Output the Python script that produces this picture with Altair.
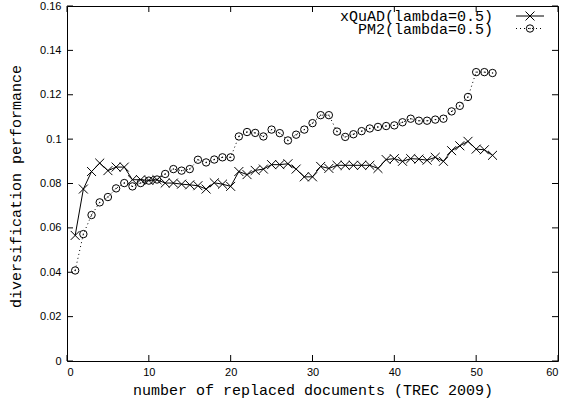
import altair as alt
import pandas as pd

# ---- data ----
x_vals = list(range(1, 53))
xquad = [0.0566, 0.0775, 0.0854, 0.0892, 0.0858, 0.0874, 0.0874, 0.0817, 0.0817, 0.0814,
         0.0817, 0.0802, 0.0802, 0.0797, 0.0794, 0.0790, 0.0775, 0.0803, 0.0797, 0.0787,
         0.0854, 0.0840, 0.0859, 0.0865, 0.0885, 0.0885, 0.0889, 0.0865, 0.0830, 0.0830,
         0.0877, 0.0868, 0.0882, 0.0882, 0.0882, 0.0882, 0.0882, 0.0868, 0.0908, 0.0912,
         0.0900, 0.0912, 0.0910, 0.0905, 0.0918, 0.0900, 0.0948, 0.0970, 0.0990, 0.0955,
         0.0952, 0.0927]
pm2 = [0.0408, 0.0572, 0.0658, 0.0715, 0.0739, 0.0778, 0.0802, 0.0787, 0.0802, 0.0813,
       0.0818, 0.0843, 0.0865, 0.0858, 0.0865, 0.0907, 0.0895, 0.0908, 0.0918, 0.0918,
       0.1012, 0.1032, 0.1028, 0.1012, 0.1043, 0.1027, 0.0994, 0.1020, 0.1043, 0.1072,
       0.1108, 0.1108, 0.1034, 0.1010, 0.1022, 0.1036, 0.1048, 0.1055, 0.1059, 0.1062,
       0.1076, 0.1092, 0.1083, 0.1083, 0.1088, 0.1092, 0.1125, 0.1150, 0.1190, 0.1302,
       0.1302, 0.1298]
series_names = ["xQuAD(lambda=0.5)", "PM2(lambda=0.5)"]
x_ticks = [0, 10, 20, 30, 40, 50, 60]
y_ticks = [0, 0.02, 0.04, 0.06, 0.08, 0.1, 0.12, 0.14, 0.16]
x_title = "number of replaced documents (TREC 2009)"
y_title = "diversification performance"

W, H = 491, 355
MONO = "Liberation Mono"
SANS = "Liberation Sans"
X_PATH = "M-1,-1L1,1M-1,1L1,-1"
X_SIZE, C_SIZE = 80, 55

df_x = pd.DataFrame({"x": x_vals, "y": xquad})
df_p = pd.DataFrame({"x": x_vals, "y": pm2})

xscale = alt.Scale(domain=[0, 60], nice=False, zero=False)
yscale = alt.Scale(domain=[0, 0.16], nice=False, zero=False)

xaxis = alt.Axis(values=x_ticks, title=x_title, labelPadding=5,
                 titleX=W / 2, titleY=28, titleAlign="center", titleBaseline="middle")
yaxis = alt.Axis(values=y_ticks, title=y_title, format="~g", labelPadding=6,
                 titleX=-52, titleY=180, titleAngle=270, titleAlign="center",
                 titleBaseline="middle")
X = alt.X("x:Q", scale=xscale, axis=xaxis)
Y = alt.Y("y:Q", scale=yscale, axis=yaxis)

line_x = alt.Chart(df_x).mark_line(color="black", strokeWidth=1).encode(x=X, y=Y)
pts_x = alt.Chart(df_x).mark_point(shape=X_PATH, size=X_SIZE, filled=False, color="black",
                                   strokeWidth=1, opacity=1).encode(x=X, y=Y)
line_p = alt.Chart(df_p).mark_line(color="black", strokeWidth=1,
                                   strokeDash=[1, 3]).encode(x=X, y=Y)
pts_p = alt.Chart(df_p).mark_point(shape="circle", size=C_SIZE, filled=False, color="black",
                                   strokeWidth=1, opacity=1).encode(x=X, y=Y)
dots_p = alt.Chart(df_p).mark_point(shape="circle", size=2, filled=True, color="black",
                                    opacity=1).encode(x=X, y=Y)

# inward ticks (gnuplot style, mirrored on all four sides)
yt = pd.DataFrame({"y": y_ticks})
xt = pd.DataFrame({"x": x_ticks})
tick_style = dict(color="black", strokeWidth=1)
tl = alt.Chart(yt).mark_rule(**tick_style).encode(y=Y, x=alt.value(0), x2=alt.value(6))
tr = alt.Chart(yt).mark_rule(**tick_style).encode(y=Y, x=alt.value(W - 6), x2=alt.value(W))
tb = alt.Chart(xt).mark_rule(**tick_style).encode(x=X, y=alt.value(H - 6), y2=alt.value(H))
tt = alt.Chart(xt).mark_rule(**tick_style).encode(x=X, y=alt.value(0), y2=alt.value(6))

# legend (gnuplot key: label, then line sample with marker)
leg1 = pd.DataFrame({"t": [series_names[0]]})
leg2 = pd.DataFrame({"t": [series_names[1]]})
r1, r2 = 10, 22.5
lx_text, lx0, lx1, lxm = 426, 449, 477, 463
lt1 = alt.Chart(leg1).mark_text(align="right", baseline="middle", font=MONO, fontSize=15,
                                color="black").encode(x=alt.value(lx_text), y=alt.value(r1), text="t:N")
lt2 = alt.Chart(leg2).mark_text(align="right", baseline="middle", font=MONO, fontSize=15,
                                color="black").encode(x=alt.value(lx_text), y=alt.value(r2), text="t:N")
ll1 = alt.Chart(leg1).mark_rule(color="black", strokeWidth=1).encode(
    x=alt.value(lx0), x2=alt.value(lx1), y=alt.value(r1))
ll2 = alt.Chart(leg2).mark_rule(color="black", strokeWidth=1, strokeDash=[1, 3]).encode(
    x=alt.value(lx0), x2=alt.value(lx1), y=alt.value(r2))
lm1 = alt.Chart(leg1).mark_point(shape=X_PATH, size=X_SIZE, filled=False, color="black",
                                 strokeWidth=1, opacity=1).encode(x=alt.value(lxm), y=alt.value(r1))
lm2 = alt.Chart(leg2).mark_point(shape="circle", size=C_SIZE, filled=False, color="black",
                                 strokeWidth=1, opacity=1).encode(x=alt.value(lxm), y=alt.value(r2))
lm2d = alt.Chart(leg2).mark_point(shape="circle", size=2, filled=True, color="black",
                                  opacity=1).encode(x=alt.value(lxm), y=alt.value(r2))

chart = alt.layer(
    line_x, pts_x, line_p, pts_p, dots_p, tl, tr, tb, tt,
    ll1, ll2, lm1, lm2, lm2d, lt1, lt2
).properties(
    width=W, height=H,
    autosize=alt.AutoSizeParams(type="none"),
    padding={"left": 67, "top": 6, "right": 8, "bottom": 44},
    background="white",
).configure_view(
    stroke="black", strokeWidth=1
).configure_axis(
    domain=False, ticks=False, grid=False,
    labelFont=SANS, labelFontSize=11, labelColor="black",
    titleFont=MONO, titleFontSize=15, titleFontWeight="normal", titleColor="black",
)

chart.save("out.html", embed_options={"renderer": "svg", "actions": False})
